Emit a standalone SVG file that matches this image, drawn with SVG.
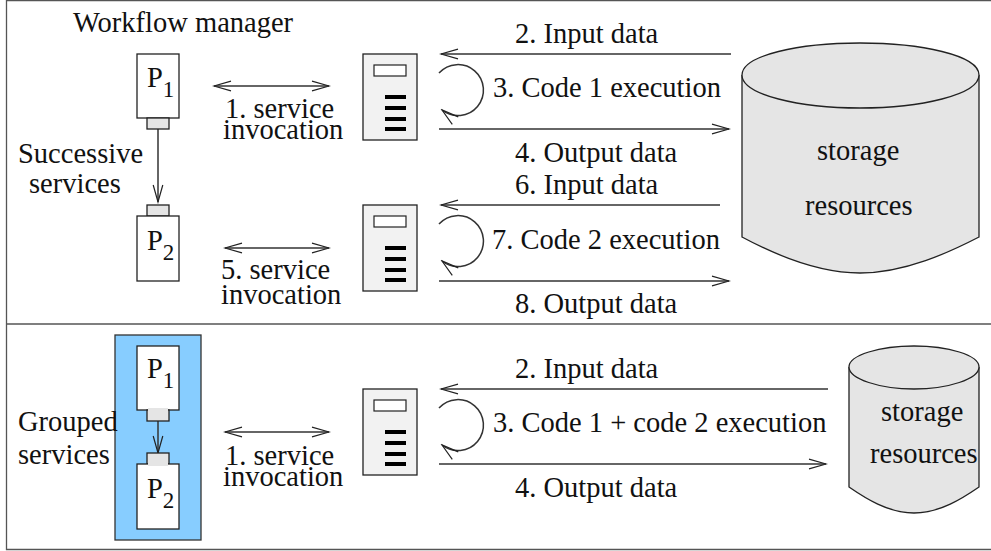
<svg xmlns="http://www.w3.org/2000/svg" width="991" height="551" viewBox="0 0 991 551">
<style>
text{font-family:"Liberation Serif","Times New Roman",serif;font-size:28.5px;fill:#111}
.sub{font-size:23px}
.ln{fill:none;stroke:#333;stroke-width:1.5}
.box{fill:#fff;stroke:#222;stroke-width:1.3}
.tab{fill:#e5e5e5;stroke:#222;stroke-width:1.3}
.srv{fill:#f2f2f2;stroke:#222;stroke-width:1.3}
.bar{fill:#000}
.cyl{fill:#e5e5e5;stroke:#222;stroke-width:1.3}
</style>
<defs>
<marker id="a" markerUnits="userSpaceOnUse" markerWidth="20" markerHeight="14" refX="18" refY="7" orient="auto-start-reverse"><path d="M1 2.2L18 7L1 11.8" fill="none" stroke="#222" stroke-width="1.2"/></marker>
<g id="server"><rect class="srv" x="0" y="0" width="54" height="86"/><rect x="11" y="11" width="32" height="11" fill="#fff" stroke="#222" stroke-width="1.2"/><rect class="bar" x="22" y="41" width="21" height="4"/><rect class="bar" x="22" y="52" width="21" height="4"/><rect class="bar" x="22" y="63" width="21" height="4"/><rect class="bar" x="22" y="73" width="21" height="4"/></g>
</defs>
<g id="frame" fill="none" stroke="#555" stroke-width="1.3"><path d="M991 0.5H6.5V549.5H991"/><path d="M6.5 324H991"/></g>
<g id="group-bg"><rect x="115" y="335" width="86" height="205" fill="#87cdff" stroke="#333" stroke-width="1.3"/></g>
<g id="connectors">
<path class="ln" d="M158 129V202" marker-end="url(#a)"/>
<path class="ln" d="M158 421V453" marker-end="url(#a)"/>
<path class="ln" d="M214 86H329" marker-start="url(#a)" marker-end="url(#a)"/>
<path class="ln" d="M225 248H329" marker-start="url(#a)" marker-end="url(#a)"/>
<path class="ln" d="M225 432H329" marker-start="url(#a)" marker-end="url(#a)"/>
<path class="ln" d="M731 54H441" marker-end="url(#a)"/>
<path class="ln" d="M439 129H729" marker-end="url(#a)"/>
<path class="ln" d="M720 205H441" marker-end="url(#a)"/>
<path class="ln" d="M439 281H729" marker-end="url(#a)"/>
<path class="ln" d="M828 389H441" marker-end="url(#a)"/>
<path class="ln" d="M439 464H826" marker-end="url(#a)"/>
<path class="ln" d="M439 73A25.5 25.5 0 1 1 442 110" marker-end="url(#a)"/>
<path class="ln" d="M439 224A25.5 25.5 0 1 1 442 261" marker-end="url(#a)"/>
<path class="ln" d="M439 408A25.5 25.5 0 1 1 442 445" marker-end="url(#a)"/>
</g>
<g id="p1-top"><rect class="box" x="137" y="54" width="42" height="64"/><rect class="tab" x="147" y="118" width="22" height="11"/><text x="147" y="87">P<tspan class="sub" dy="10">1</tspan></text></g>
<g id="p2-top"><rect class="tab" x="147" y="205" width="22" height="11"/><rect class="box" x="137" y="216" width="42" height="65"/><text x="147" y="250">P<tspan class="sub" dy="10">2</tspan></text></g>
<g id="p1-bottom"><rect class="box" x="137" y="346" width="42" height="64"/><rect class="tab" x="147" y="410" width="22" height="11"/><rect x="148" y="408" width="20" height="4" fill="#e5e5e5"/><text x="147" y="378">P<tspan class="sub" dy="10">1</tspan></text></g>
<g id="p2-bottom"><rect class="tab" x="147" y="453" width="22" height="11"/><rect class="box" x="137" y="464" width="42" height="65"/><rect x="148" y="462" width="20" height="4" fill="#e5e5e5"/><text x="147" y="498">P<tspan class="sub" dy="10">2</tspan></text></g>
<g id="server-1"><use href="#server" x="363" y="54"/></g>
<g id="server-2"><use href="#server" x="363" y="205"/></g>
<g id="server-3"><use href="#server" x="363" y="389"/></g>
<g id="storage-top"><path class="cyl" d="M742 75C742 55 800 43 860 43C920 43 979 55 979 75V237C950 252 905 273 860 273C815 273 770 252 742 237Z"/><path class="cyl" d="M742 75C742 95 800 108 860 108C920 108 979 95 979 75"/><text x="817" y="160">storage</text><text x="805" y="215">resources</text></g>
<g id="storage-bottom"><path class="cyl" d="M849 367C849 355 880 346 914 346C948 346 979 355 979 367V487C963 498 940 513 914 513C888 513 865 498 849 487Z"/><path class="cyl" d="M849 367C849 379 880 389 914 389C948 389 979 379 979 367"/><text x="881" y="421">storage</text><text x="870" y="463">resources</text></g>
<g id="labels">
<text x="73" y="32">Workflow manager</text>
<text x="18" y="163">Successive</text><text x="29" y="193">services</text>
<text x="225" y="118">1. service</text><text x="223" y="139">invocation</text>
<text x="221" y="279">5. service</text><text x="221" y="304">invocation</text>
<text x="18" y="431">Grouped</text><text x="18" y="464">services</text>
<text x="225" y="465">1. service</text><text x="223" y="486">invocation</text>
<text x="515" y="43">2. Input data</text><text x="493" y="97">3. Code 1 execution</text><text x="515" y="162">4. Output data</text>
<text x="515" y="194">6. Input data</text><text x="492" y="249">7. Code 2 execution</text><text x="515" y="313">8. Output data</text>
<text x="515" y="378">2. Input data</text><text x="493" y="432">3. Code 1 + code 2 execution</text><text x="515" y="497">4. Output data</text>
</g>
</svg>
